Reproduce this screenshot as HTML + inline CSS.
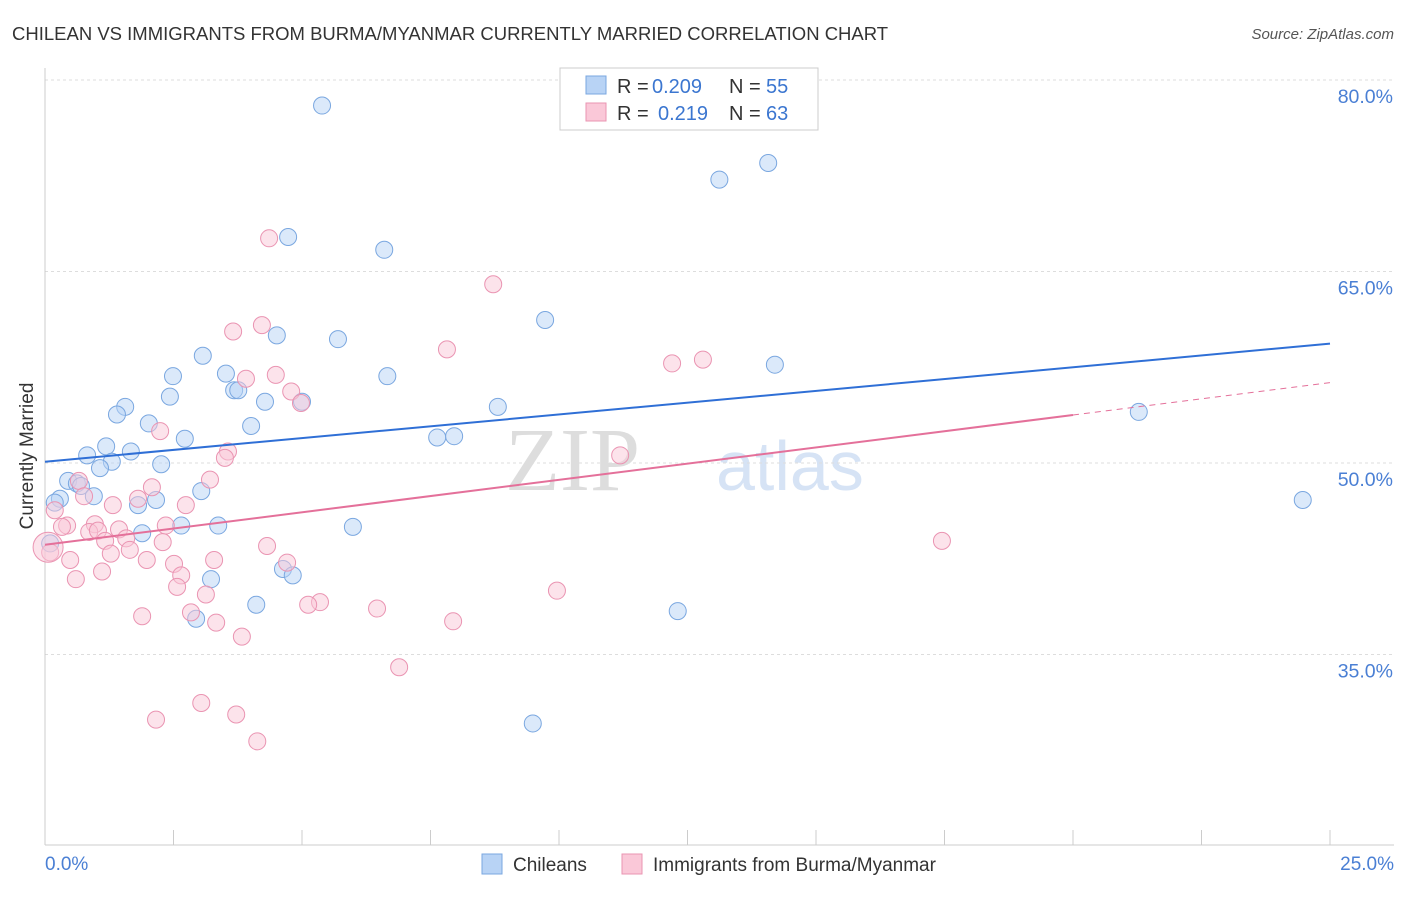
<!DOCTYPE html>
<html><head><meta charset="utf-8"><style>
body{margin:0;background:#fff;font-family:"Liberation Sans",sans-serif}
</style></head><body>
<svg width="1406" height="892" xmlns="http://www.w3.org/2000/svg">
<text x="12" y="40" font-size="18.5" fill="#333">CHILEAN VS IMMIGRANTS FROM BURMA/MYANMAR CURRENTLY MARRIED CORRELATION CHART</text>
<text x="1394" y="39" font-size="15" fill="#555" font-style="italic" text-anchor="end">Source: ZipAtlas.com</text>
<text x="640" y="490" font-size="90" fill="#ddd" font-family="Liberation Serif" text-anchor="end">ZIP</text>
<text x="716" y="490" font-size="70" fill="#d6e3f5">atlas</text>
<g id="grid"></g>
<line x1="45" y1="68" x2="45" y2="845" stroke="#ccc"/>
<line x1="45" y1="845" x2="1394" y2="845" stroke="#ccc"/>
<g id="pts"></g>
<g id="lines"></g>
<text x="33" y="456" font-size="19" fill="#333" text-anchor="middle" transform="rotate(-90 33 456)">Currently Married</text>
<text x="45" y="870" font-size="19" fill="#4a7fd4">0.0%</text>
<text x="1394" y="870" font-size="19" fill="#4a7fd4" text-anchor="end">25.0%</text>
<g>
<rect x="560" y="68" width="258" height="62" fill="#fff" stroke="#ccc"/>
<rect x="586" y="76" width="20" height="18" fill="#b8d3f5" stroke="#7aa7e0"/>
<rect x="586" y="103" width="20" height="18" fill="#fac8d8" stroke="#ea94b2"/>
<text x="617" y="93" font-size="20" fill="#333">R =</text>
<text x="652" y="93" font-size="20" fill="#3b76d0">0.209</text>
<text x="729" y="93" font-size="20" fill="#333">N =</text>
<text x="766" y="93" font-size="20" fill="#3b76d0">55</text>
<text x="617" y="120" font-size="20" fill="#333">R =</text>
<text x="658" y="120" font-size="20" fill="#3b76d0">0.219</text>
<text x="729" y="120" font-size="20" fill="#333">N =</text>
<text x="766" y="120" font-size="20" fill="#3b76d0">63</text>
</g>
<g>
<rect x="482" y="854" width="20" height="20" fill="#b8d3f5" stroke="#7aa7e0"/>
<text x="513" y="871" font-size="19" fill="#333">Chileans</text>
<rect x="622" y="854" width="20" height="20" fill="#fac8d8" stroke="#ea94b2"/>
<text x="653" y="871" font-size="19" fill="#333">Immigrants from Burma/Myanmar</text>
</g>
</svg>
<script>
const yTicks=[80,65,50,35];
const xTickVals=[0,2.5,5,7.5,10,12.5,15,17.5,20,22.5,25];
const blueX=[5.39,14.07,13.12,4.73,6.6,9.73,4.51,5.7,3.07,2.49,3.52,6.66,14.2,2.43,3.68,3.76,4.28,5,8.81,1.56,1.4,2.02,4.01,2.72,7.63,7.96,1.19,1.67,0.82,1.3,2.26,1.07,0.45,0.62,0.7,0.95,0.29,0.19,2.16,3.04,1.81,2.65,3.37,5.99,1.89,21.28,24.47,4.63,4.82,3.23,4.11,2.94,12.31,9.49,0.1];
const blueY=[78,73.5,72.2,67.7,66.7,61.2,60,59.7,58.4,56.8,57,56.8,57.7,55.2,55.7,55.7,54.8,54.8,54.4,54.4,53.8,53.1,52.9,51.9,52,52.1,51.3,50.9,50.6,50.1,49.9,49.6,48.6,48.4,48.2,47.4,47.2,46.9,47.1,47.8,46.7,45.1,45.1,45,44.5,54,47.1,41.7,41.2,40.9,38.9,37.8,38.4,29.6,43.7];
const pinkX=[8.72,4.36,4.22,3.66,7.82,12.8,12.2,4.49,3.91,4.79,4.98,2.24,3.56,3.5,11.19,3.21,2.08,0.66,0.76,1.81,2.74,1.32,0.19,0.43,0.97,0.33,0.86,1.44,1.03,2.35,1.58,1.17,2.29,1.65,1.28,4.32,1.98,3.29,4.71,0.49,2.51,2.65,1.11,0.6,2.57,3.13,5.35,5.12,6.46,9.96,1.89,2.84,3.33,7.94,3.83,6.89,17.45,2.16,3.04,3.72,4.13,0.1,0.06];
const pinkY=[64,67.6,60.8,60.3,58.9,58.1,57.8,56.9,56.6,55.6,54.7,52.5,50.9,50.4,50.6,48.7,48.1,48.6,47.4,47.2,46.7,46.7,46.3,45.1,45.2,45,44.6,44.8,44.7,45.1,44.1,43.9,43.8,43.2,42.9,43.5,42.4,42.4,42.2,42.4,42.1,41.2,41.5,40.9,40.3,39.7,39.1,38.9,38.6,40,38,38.3,37.5,37.6,36.4,34,43.9,29.9,31.2,30.3,28.2,43,43.4];
const blueTrend=[50.1,59.35];
const pinkTrend=[43.6,56.3];
const X=v=>45+v/25*1285, Y=v=>80+(80-v)*191.5/15;
const NS="http://www.w3.org/2000/svg";
function mk(t,a,p){const e=document.createElementNS(NS,t);for(const k in a)e.setAttribute(k,a[k]);p.appendChild(e);return e;}
const grid=document.getElementById('grid');
yTicks.forEach(v=>{
 const l=mk('line',{x1:45,x2:1394,y1:Y(v),y2:Y(v),stroke:'#ddd','stroke-dasharray':'3,3'},grid);
 
 
 const t=mk('text',{x:1393,y:Y(v)+23,'font-size':19.5,fill:'#4a7fd4','text-anchor':'end'},grid);
 t.textContent=v.toFixed(1)+'%';
 
 
});
xTickVals.forEach(v=>{
 const l=mk('line',{x1:X(v),x2:X(v),y1:830,y2:845,stroke:'#ccc'},grid);
 
 
});
const pts=document.getElementById('pts');
function drawPts(xs,ys,fill,stroke,name,bigIdx){xs.forEach((x,i)=>{
 const big=(i===bigIdx);
 const c=mk('circle',{cx:X(x),cy:Y(ys[i]),r:big?15:8.5,fill:fill,'fill-opacity':0.5,stroke:stroke,'stroke-width':1},pts);
 
 
});}
drawPts(blueX,blueY,'#b8d3f5','#7aa7e0','chilean-point',-1);
drawPts(pinkX,pinkY,'#fac8d8','#ea94b2','burma-point',62);
const lines=document.getElementById('lines');
let b=mk('line',{x1:X(0),y1:Y(blueTrend[0]),x2:X(25),y2:Y(blueTrend[1]),stroke:'#2f6fd6','stroke-width':2},lines);


const pAt=v=>pinkTrend[0]+(pinkTrend[1]-pinkTrend[0])*v/25;
let p=mk('line',{x1:X(0),y1:Y(pAt(0)),x2:X(20),y2:Y(pAt(20)),stroke:'#e4709a','stroke-width':2},lines);


let pd=mk('line',{x1:X(20),y1:Y(pAt(20)),x2:X(25),y2:Y(pAt(25)),stroke:'#e4709a','stroke-width':1,'stroke-dasharray':'6,5'},lines);


</script>
</body></html>
